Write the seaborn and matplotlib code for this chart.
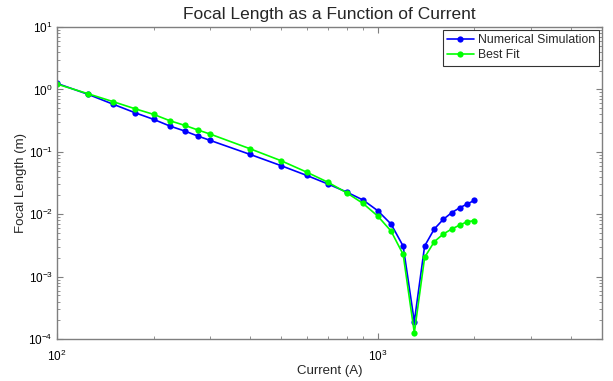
import numpy as np
import pandas as pd
import matplotlib
matplotlib.use("Agg")
import matplotlib.pyplot as plt
import seaborn as sns
from matplotlib.ticker import LogLocator, LogFormatterMathtext, NullFormatter

current = [100, 125, 150, 175, 200, 225, 250, 275, 300, 400, 500, 600, 700, 800, 900,
           1000, 1100, 1200, 1300, 1400, 1500, 1600, 1700, 1800, 1900, 2000]
sim_focal = [1.25, 0.835, 0.577, 0.424, 0.332, 0.259, 0.216, 0.179, 0.153, 0.091, 0.060,
             0.042, 0.0305, 0.0227, 0.0169, 0.0114, 0.00697, 0.00309, 0.00019, 0.0031,
             0.0058, 0.00828, 0.0106, 0.0127, 0.0146, 0.0167]
fit_focal = [1.22, 0.853, 0.635, 0.491, 0.399, 0.315, 0.266, 0.224, 0.193, 0.112, 0.072,
             0.0474, 0.0325, 0.0221, 0.0149, 0.00935, 0.00538, 0.00227, 0.000126, 0.00204,
             0.00363, 0.00482, 0.0058, 0.0067, 0.0076, 0.0079]
series_names = ["Numerical Simulation", "Best Fit"]

df = pd.DataFrame({
    "Current": current * 2,
    "Focal": sim_focal + fit_focal,
    "Series": [series_names[0]] * len(current) + [series_names[1]] * len(current),
})

sns.set_style("ticks")
plt.rcParams["font.family"] = ["Liberation Sans", "DejaVu Sans"]
plt.rcParams["mathtext.fontset"] = "custom"
plt.rcParams["mathtext.rm"] = "Liberation Sans"
plt.rcParams["mathtext.it"] = "Liberation Sans:italic"
plt.rcParams["mathtext.bf"] = "Liberation Sans:bold"

fig = plt.figure(figsize=(6.13, 3.81), dpi=100)
ax = fig.add_axes([0.093, 0.110, 0.889, 0.819])

sns.lineplot(data=df, x="Current", y="Focal", hue="Series",
             palette={series_names[0]: "#0000ff", series_names[1]: "#00ff00"},
             marker="o", markersize=4.5, markeredgewidth=0, linewidth=1.2,
             ax=ax, sort=False, estimator=None)

ax.set_xscale("log")
ax.set_yscale("log")
ax.set_xlim(100, 5000)
ax.set_ylim(1e-4, 10)

ax.yaxis.set_major_locator(LogLocator(base=10, numticks=10))
ax.yaxis.set_minor_locator(LogLocator(base=10, subs=np.arange(2, 10), numticks=20))
ax.xaxis.set_major_locator(LogLocator(base=10, numticks=10))
ax.xaxis.set_minor_locator(LogLocator(base=10, subs=np.arange(2, 10), numticks=20))
ax.yaxis.set_major_formatter(LogFormatterMathtext())
ax.xaxis.set_major_formatter(LogFormatterMathtext())
ax.xaxis.set_minor_formatter(NullFormatter())
ax.yaxis.set_minor_formatter(NullFormatter())

for s in ax.spines.values():
    s.set_color("#7f7f7f")
    s.set_linewidth(1.0)
ax.tick_params(which="both", direction="in", top=True, right=True, colors="#7f7f7f",
               labelcolor="black", labelsize=8.5)
ax.tick_params(axis="y", which="both", pad=3)
ax.tick_params(axis="x", which="both", pad=7)
ax.tick_params(which="major", length=4)
ax.tick_params(which="minor", length=2.5)

ax.set_title("Focal Length as a Function of Current", fontsize=12.5, pad=6)
ax.set_xlabel("Current (A)", fontsize=9.5, labelpad=1)
ax.set_ylabel("Focal Length (m)", fontsize=9.5, labelpad=1)

leg = ax.legend(loc="upper right", fontsize=8.8, frameon=True, fancybox=False,
                borderpad=0.35, handlelength=2.2, handletextpad=0.3, labelspacing=0.25,
                borderaxespad=0.25)
leg.get_frame().set_edgecolor("black")
leg.get_frame().set_linewidth(0.8)
leg.set_title(None)

fig.savefig("out.png", dpi=100)
